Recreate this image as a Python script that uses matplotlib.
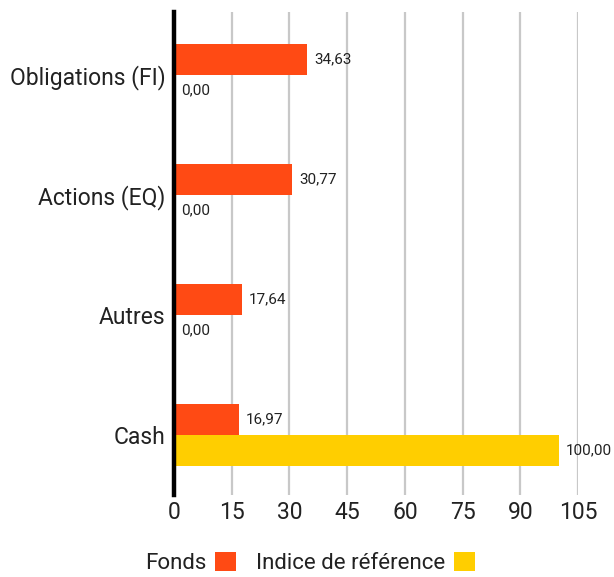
import matplotlib
matplotlib.use("Agg")
import matplotlib.pyplot as plt
import numpy as np
from matplotlib.patches import Patch

categories = ["Obligations (FI)", "Actions (EQ)", "Autres", "Cash"]
fonds = [34.63, 30.77, 17.64, 16.97]
indice = [0.00, 0.00, 0.00, 100.00]
series_names = ["Fonds", "Indice de référence"]
xticks = [0, 15, 30, 45, 60, 75, 90, 105]

c_fonds = "#FF4A14"
c_ind = "#FFCE00"
txt = "#222222"

plt.rcParams["font.family"] = ["Roboto", "DejaVu Sans"]

fig = plt.figure(figsize=(6.14, 5.77), dpi=100)
ax = fig.add_axes([174/614, 1-495/577, (578-174)/614, (495-12)/577])

y = np.arange(len(categories))
h = 0.26
ax.barh(y - h/2, fonds, height=h, color=c_fonds, zorder=3)
ax.barh(y + h/2, indice, height=h, color=c_ind, zorder=3)

def fmt(v):
    return f"{v:.2f}".replace(".", ",")

for yi, v in zip(y - h/2, fonds):
    ax.annotate(fmt(v), (v, yi), xytext=(5, 0), textcoords="offset points",
                va="center", ha="left", fontsize=11, color=txt, zorder=4)
for yi, v in zip(y + h/2, indice):
    ax.annotate(fmt(v), (v, yi), xytext=(5, 0), textcoords="offset points",
                va="center", ha="left", fontsize=11, color=txt, zorder=4,
                annotation_clip=False)

ax.set_xlim(0, 105)
ax.set_ylim(3.5, -0.525)
ax.set_xticks(xticks)
ax.set_xticklabels([str(t) for t in xticks])
ax.set_yticks(y)
ax.set_yticklabels(categories)
ax.tick_params(axis="both", length=0, labelsize=16.5, colors=txt)
ax.tick_params(axis="x", pad=4)
ax.tick_params(axis="y", pad=6)

for s in ["top", "right", "bottom"]:
    ax.spines[s].set_visible(False)
ax.spines["left"].set_linewidth(3.2)
ax.spines["left"].set_color("black")
ax.spines["left"].set_zorder(5)

ax.grid(axis="x", color="#c8c8c8", linewidth=1.6, zorder=0)
ax.set_axisbelow(True)

handles = [Patch(facecolor=c_fonds, label=series_names[0]),
           Patch(facecolor=c_ind, label=series_names[1])]
fig.legend(handles=handles, loc="lower center", bbox_to_anchor=(0.505, -0.03), ncol=2,
           frameon=False, markerfirst=False, fontsize=16, handlelength=0.95,
           handleheight=0.95, handletextpad=0.4, columnspacing=0.9,
           labelcolor=txt)

fig.savefig("out.png", dpi=100)
